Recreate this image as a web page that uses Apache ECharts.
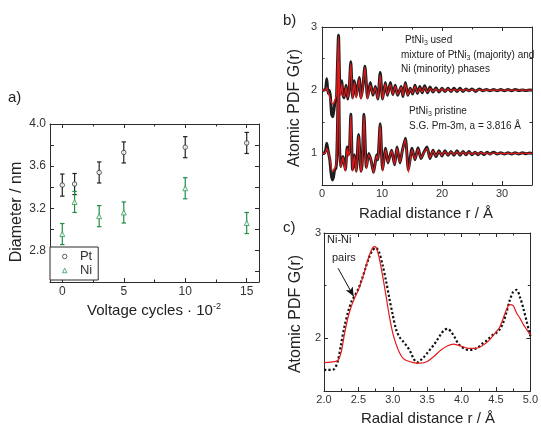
<!DOCTYPE html>
<html><head><meta charset="utf-8">
<script src="https://cdn.jsdelivr.net/npm/echarts@6/dist/echarts.min.js"></script>
<style>html,body{margin:0;padding:0;background:#fff}#c{width:541px;height:427px}</style>
</head><body><div id="c"></div>
<script>
// ---------- Panel a: particle diameter vs voltage cycles ----------
const cycles = [0, 1, 3, 5, 10, 15];
const ptDiam = [3.42, 3.43, 3.54, 3.73, 3.78, 3.82];
const ptErr  = [0.105, 0.1, 0.1, 0.1, 0.1, 0.1];
const niDiam = [2.955, 3.26, 3.125, 3.16, 3.39, 3.06];
const niErr  = [0.1, 0.1, 0.1, 0.1, 0.1, 0.1];

// ---------- Panel b: PDF, used (offset 2) and pristine (offset 1) ----------
const usedR = [0.0,0.3,0.6,0.8,1.0,1.2,1.4,1.6,1.8,2.0,2.2,2.4,2.55,2.75,2.95,3.1,3.3,3.5,3.7,4.0,4.3,4.55,4.8,5.1,5.4,5.7,6.2,6.5,6.8,7.15,7.6,8.05,8.5,8.9,9.3,9.7,10.1,10.55,10.9,11.4,11.8,12.2,12.6,13.2,13.5,13.9,14.3,14.7,15.1,15.5,15.9,16.3,16.7,17.1,17.6,18.0,18.5,19.0,19.5,20.0,20.5,21.0,21.5,22.0,22.5,23.0,23.5,24.0,24.5,25.0,25.6,26.2,26.8,27.4,28.0,28.6,29.2,29.8,30.4,31.0,31.6,32.2,32.8,33.4,34.0,34.6,35.0];
const usedExp = [2.00,2.00,2.02,2.18,1.95, 2.00,1.90,1.62,1.58,1.70, 1.82,1.85,2.30,2.87,2.10, 1.95,2.15,1.92,1.88,2.08, 1.86,2.05,2.45,1.88,2.15, 1.90,2.20,1.88,2.05,2.38, 1.88,2.12,1.92,2.06,1.86, 2.28,1.86,2.12,1.92,2.12, 1.93,2.08,1.92,2.06,1.90, 2.12,1.92,2.03,1.94,2.08, 1.95,2.06,1.96,2.07,1.96, 2.05,1.97,2.04,1.97,2.03, 1.98,2.03,1.98,2.03,1.98, 2.03,1.98,2.02,1.99,2.02, 1.98,2.02,1.99,2.01,1.99, 2.01,1.99,2.01,1.99,2.01, 1.99,2.01,1.995,2.005,1.995, 2.005,2.00];
const usedFit = [2.00,2.00,2.00,2.05,1.98, 1.92,1.85,1.80,1.78,1.80, 1.86,1.92,2.30,2.85,2.05, 1.92,2.10,1.92,1.90,2.05, 1.88,2.05,2.42,1.86,2.12, 1.88,2.18,1.86,2.03,2.36, 1.86,2.08,1.94,2.04,1.86, 2.24,1.86,2.10,1.93,2.09, 1.94,2.06,1.93,2.05,1.92, 2.10,1.92,2.02,1.95,2.06, 1.96,2.04,1.97,2.05,1.97, 2.03,1.98,2.02,1.98,2.02, 1.985,2.02,1.985,2.015,1.99, 2.015,1.99,2.015,1.99,2.01, 1.99,2.01,1.995,2.005,1.995, 2.005,1.995,2.005,2.0,2.005, 2.0,2.0,2.0,2.0,2.0, 2.0,2.0];
const priR = [0.0,0.3,0.6,0.8,1.0,1.3,1.5,1.7,1.9,2.1,2.3,2.45,2.6,2.75,2.9,3.1,3.3,3.5,3.7,3.9,4.2,4.4,4.6,4.8,5.1,5.4,5.7,6.1,6.5,6.7,7.0,7.4,7.8,8.2,8.6,9.1,9.3,9.7,10.1,10.6,11.0,11.6,12.1,12.5,13.0,13.4,13.9,14.4,15.0,15.5,16.0,16.5,17.0,17.5,18.0,18.5,19.0,19.5,20.0,20.5,21.0,21.5,22.0,22.5,23.0,23.5,24.0,24.5,25.0,25.5,26.0,26.5,27.0,27.5,28.0,28.6,29.2,29.8,30.4,31.0,31.6,32.2,32.8,33.4,34.0,34.6,35.0];
const priExp = [1.00,1.00,1.05,1.16,1.05, 0.90,0.70,0.58,0.62,0.74, 0.76,0.90,1.50,2.45,1.20, 0.79,0.88,0.95,0.85,0.74, 1.10,0.98,1.10,1.62,0.74, 0.98,0.72,1.30,0.72,0.85, 1.62,0.78,1.00,0.88,0.70, 0.98,0.90,1.47,0.74,1.08, 0.85,1.05,0.82,1.10,0.85, 1.05,1.24,0.74,1.08,0.90, 1.09,0.92,1.02,1.10,0.92, 1.05,0.95,1.04,0.96,1.04, 0.97,1.03,0.97,1.04,0.97, 1.03,0.98,1.03,0.98,1.02, 0.98,1.02,0.98,1.02,0.99, 1.02,0.99,1.01,0.99,1.01, 0.99,1.01,0.99,1.01,0.995, 1.005,1.00];
const priFit = [1.00,1.00,1.02,1.08,1.03, 0.92,0.80,0.72,0.72,0.76, 0.80,0.95,1.50,2.45,1.20, 0.78,0.86,0.94,0.82,0.72, 1.08,0.96,1.08,1.60,0.72, 0.96,0.70,1.28,0.70,0.84, 1.60,0.76,0.98,0.88,0.70, 0.96,0.90,1.45,0.72,1.06, 0.86,1.04,0.83,1.08,0.86, 1.04,1.22,0.70,1.06,0.91, 1.07,0.93,1.01,1.08,0.93, 1.04,0.96,1.03,0.97,1.03, 0.975,1.025,0.975,1.03,0.98, 1.02,0.98,1.02,0.985,1.015, 0.985,1.015,0.99,1.01,0.99, 1.01,0.995,1.005,0.995,1.005, 0.995,1.005,0.995,1.005,1.0, 1.0,1.0];

// ---------- Panel c: zoom 2-5 A, used sample ----------
const zoomR = [2.00,2.05,2.10,2.15,2.20,2.25,2.30,2.35,2.40,2.45,2.50,2.55,2.60,2.65,2.70,2.75,2.80,2.85,2.90,2.95,3.00,3.05,3.10,3.15,3.20,3.25,3.30,3.35,3.40,3.45,3.50,3.55,3.60,3.65,3.70,3.75,3.80,3.85,3.90,3.95,4.00,4.05,4.10,4.15,4.20,4.25,4.30,4.35,4.40,4.45,4.50,4.55,4.60,4.65,4.70,4.75,4.80,4.85,4.90,4.95,5.00];
const zoomExp = [1.70,1.70,1.70,1.71,1.78,1.95,2.12,2.25,2.35,2.41,2.47,2.56,2.66,2.76,2.83,2.86,2.82,2.70,2.55,2.38,2.22,2.08,2.01,1.97,1.93,1.88,1.81,1.77,1.79,1.82,1.86,1.90,1.94,1.99,2.04,2.08,2.09,2.06,2.01,1.95,1.92,1.90,1.89,1.89,1.90,1.92,1.95,1.97,2.00,2.03,2.05,2.08,2.14,2.24,2.36,2.44,2.46,2.39,2.28,2.15,2.02];
const zoomFitR = [2.00,2.10,2.20,2.25,2.30,2.35,2.40,2.45,2.50,2.55,2.60,2.65,2.70,2.73,2.76,2.80,2.85,2.90,2.95,3.00,3.05,3.10,3.15,3.20,3.30,3.40,3.50,3.60,3.70,3.80,3.88,3.95,4.00,4.10,4.20,4.30,4.40,4.50,4.55,4.60,4.65,4.70,4.75,4.80,4.85,4.90,4.95,5.00];
const zoomFit = [1.77,1.775,1.79,1.87,2.05,2.20,2.31,2.39,2.46,2.55,2.66,2.77,2.85,2.87,2.86,2.77,2.60,2.41,2.21,2.05,1.94,1.86,1.81,1.79,1.77,1.765,1.78,1.83,1.89,1.93,1.945,1.935,1.925,1.905,1.905,1.93,1.98,2.06,2.10,2.18,2.27,2.32,2.31,2.24,2.19,2.13,2.08,2.03];

// ---------- drawing ----------
const FONT = "'Liberation Sans', Arial, Helvetica, sans-serif";
const AX = '#2b2b2b';
const RED = '#e3191c';
const GREEN = '#1f8f45';
const zip = (xs, ys) => xs.map((x, i) => [x, ys[i]]);

function mkAxes(gridIndex, dim, min, max, split, minor, fmt, fontSize, margin) {
  const base = {
    type: 'value', gridIndex, min, max, splitNumber: split,
    axisLine: {show: true, onZero: false, lineStyle: {color: AX, width: 1}},
    axisTick: {show: true, inside: true, length: 4, lineStyle: {color: AX, width: 1}},
    minorTick: {show: minor, splitNumber: 2, length: 2.5, lineStyle: {color: AX, width: 1}},
    splitLine: {show: false}, minorSplitLine: {show: false}
  };
  const p = Object.assign({}, base, {position: dim === 'x' ? 'bottom' : 'left',
    axisLabel: {show: true, color: '#333', fontSize, fontFamily: FONT, margin, formatter: fmt, showMinLabel: true, showMaxLabel: true}});
  const m = Object.assign({}, base, {position: dim === 'x' ? 'top' : 'right', axisLabel: {show: false}});
  return [p, m];
}
const near = (v, step) => Math.abs(v / step - Math.round(v / step)) < 1e-6;

const ax_a_x = mkAxes(0, 'x', -1, 16, 3, true, v => near(v, 5) ? String(Math.round(v)) : '', 12, 4);
const ax_a_y = mkAxes(0, 'y', 2.5, 4.0, 7, false, v => near(v, 0.4) && v > 2.6 ? v.toFixed(1) : '', 12, 4);
const ax_b_x = mkAxes(1, 'x', 0, 35, 4, true, v => near(v, 10) ? String(Math.round(v)) : '', 11, 3);
const ax_b_y = mkAxes(1, 'y', 0.5, 3, 3, true, v => near(v, 1) ? String(Math.round(v)) : '', 11, 5);
const ax_c_x = mkAxes(2, 'x', 2, 5, 6, true, v => near(v, 0.5) ? v.toFixed(1) : '', 11, 3);
const ax_c_y = mkAxes(2, 'y', 1.5, 3, 2, true, v => near(v, 1) ? String(Math.round(v)) : '', 11, 3);

function errSeries(name, xs, ys, es, color) {
  return {
    type: 'custom', name, xAxisIndex: 0, yAxisIndex: 0, silent: true, z: 1,
    data: xs.map((x, i) => [x, ys[i] - es[i], ys[i] + es[i]]),
    encode: {x: 0, y: [1, 2]},
    renderItem: (params, api) => {
      const x = api.value(0);
      const lo = api.coord([x, api.value(1)]);
      const hi = api.coord([x, api.value(2)]);
      const w = 2.2;
      const st = {stroke: color, lineWidth: 1.2};
      return {type: 'group', children: [
        {type: 'line', shape: {x1: lo[0], y1: lo[1], x2: hi[0], y2: hi[1]}, style: st},
        {type: 'line', shape: {x1: lo[0] - w, y1: lo[1], x2: lo[0] + w, y2: lo[1]}, style: st},
        {type: 'line', shape: {x1: hi[0] - w, y1: hi[1], x2: hi[0] + w, y2: hi[1]}, style: st}
      ]};
    }
  };
}

const txt = (x, y, text, size, extra) => Object.assign({
  type: 'text', x, y, silent: true,
  style: Object.assign({text, font: size + 'px ' + FONT, fill: '#222', align: 'left', verticalAlign: 'middle'}, extra || {})
});
const sub = {sub: {fontSize: 7, fontFamily: FONT, fill: '#333', verticalAlign: 'bottom', lineHeight: 14}};

const option = {
  animation: false,
  backgroundColor: '#fff',
  grid: [
    {left: 50, top: 124, width: 209, height: 158},
    {left: 322, top: 27, width: 210, height: 158},
    {left: 324, top: 233, width: 209, height: 158}
  ],
  xAxis: [...ax_a_x, ...ax_b_x, ...ax_c_x],
  yAxis: [...ax_a_y, ...ax_b_y, ...ax_c_y],
  legend: {
    data: [
      {name: 'Pt', icon: 'circle', itemStyle: {color: '#fff', borderColor: '#222', borderWidth: 0.9}},
      {name: 'Ni', icon: 'triangle', itemStyle: {color: '#fff', borderColor: GREEN, borderWidth: 0.9}}
    ],
    orient: 'vertical', left: 50, top: 247,
    borderColor: AX, borderWidth: 1, borderRadius: 0, backgroundColor: '#fff',
    padding: [3, 6, 3, 12], itemGap: 1, itemWidth: 4.5, itemHeight: 4.5,
    textStyle: {fontSize: 13, fontFamily: FONT, color: '#333', padding: [0, 0, 0, 8]}
  },
  series: [
    errSeries('PtErr', cycles, ptDiam, ptErr, '#222'),
    errSeries('NiErr', cycles, niDiam, niErr, GREEN),
    {type: 'scatter', name: 'Pt', xAxisIndex: 0, yAxisIndex: 0, z: 3, symbol: 'circle', symbolSize: 4.5,
      itemStyle: {color: '#fff', borderColor: '#222', borderWidth: 0.9}, data: zip(cycles, ptDiam)},
    {type: 'scatter', name: 'Ni', xAxisIndex: 0, yAxisIndex: 0, z: 3, symbol: 'triangle', symbolSize: 5,
      itemStyle: {color: '#fff', borderColor: GREEN, borderWidth: 0.9}, data: zip(cycles, niDiam)},

    {type: 'line', name: 'usedExp', xAxisIndex: 2, yAxisIndex: 2, showSymbol: false, smooth: 0.2,
      lineStyle: {color: '#1e1e1e', width: 3}, data: zip(usedR, usedExp), z: 2},
    {type: 'line', name: 'priExp', xAxisIndex: 2, yAxisIndex: 2, showSymbol: false, smooth: 0.2,
      lineStyle: {color: '#1e1e1e', width: 3}, data: zip(priR, priExp), z: 2},
    {type: 'line', name: 'usedFit', xAxisIndex: 2, yAxisIndex: 2, showSymbol: false, smooth: 0.2,
      lineStyle: {color: RED, width: 1.2}, data: zip(usedR, usedFit), z: 3},
    {type: 'line', name: 'priFit', xAxisIndex: 2, yAxisIndex: 2, showSymbol: false, smooth: 0.2,
      lineStyle: {color: RED, width: 1.2}, data: zip(priR, priFit), z: 3},

    {type: 'line', name: 'zoomExp', xAxisIndex: 4, yAxisIndex: 4, showSymbol: false, smooth: 0.3,
      lineStyle: {color: '#111', width: 2.2, type: [2.2, 2.2], cap: 'butt'}, data: zip(zoomR, zoomExp), z: 2},
    {type: 'line', name: 'zoomFit', xAxisIndex: 4, yAxisIndex: 4, showSymbol: false, smooth: 0.3,
      lineStyle: {color: RED, width: 1.2}, data: zip(zoomFitR, zoomFit), z: 3,
      markLine: {silent: true, symbol: ['none', 'arrow'], symbolSize: [6, 9],
        lineStyle: {color: '#111', type: 'solid', width: 1}, label: {show: false},
        data: [[{coord: [2.205, 2.665]}, {coord: [2.43, 2.40]}]]}}
  ],
  graphic: [
    txt(8, 98, 'a)', 15),
    txt(283, 21, 'b)', 15),
    txt(283, 228, 'c)', 15),
    txt(17, 212, 'Diameter / nm', 16, {align: 'center'}),
    txt(154, 311, 'Voltage cycles · 10{sup|-2}', 15, {align: 'center',
      rich: {sup: {fontSize: 9, fontFamily: FONT, fill: '#222', verticalAlign: 'top', lineHeight: 18}}}),
    txt(295, 108, 'Atomic PDF G(r)', 16, {align: 'center'}),
    txt(426, 214, 'Radial distance r / Å', 15, {align: 'center'}),
    txt(296, 314, 'Atomic PDF G(r)', 16, {align: 'center'}),
    txt(428, 419, 'Radial distance r / Å', 15, {align: 'center'}),
    txt(405, 40, 'PtNi{sub|3} used', 10, {rich: sub}),
    txt(401, 55, 'mixture of PtNi{sub|3} (majority) and', 10, {rich: sub}),
    txt(401, 69, 'Ni (minority) phases', 10),
    txt(409, 111, 'PtNi{sub|3} pristine', 10, {rich: sub}),
    txt(409, 126, 'S.G. Pm-3m, a = 3.816 Å', 10),
    txt(327, 240, 'Ni-Ni', 11),
    txt(332, 258, 'pairs', 11)
  ]
};
option.graphic[3].rotation = Math.PI / 2;
option.graphic[5].rotation = Math.PI / 2;
option.graphic[7].rotation = Math.PI / 2;

const chart = echarts.init(document.getElementById('c'), null, {renderer: 'canvas'});
chart.setOption(option);
</script>
</body></html>
